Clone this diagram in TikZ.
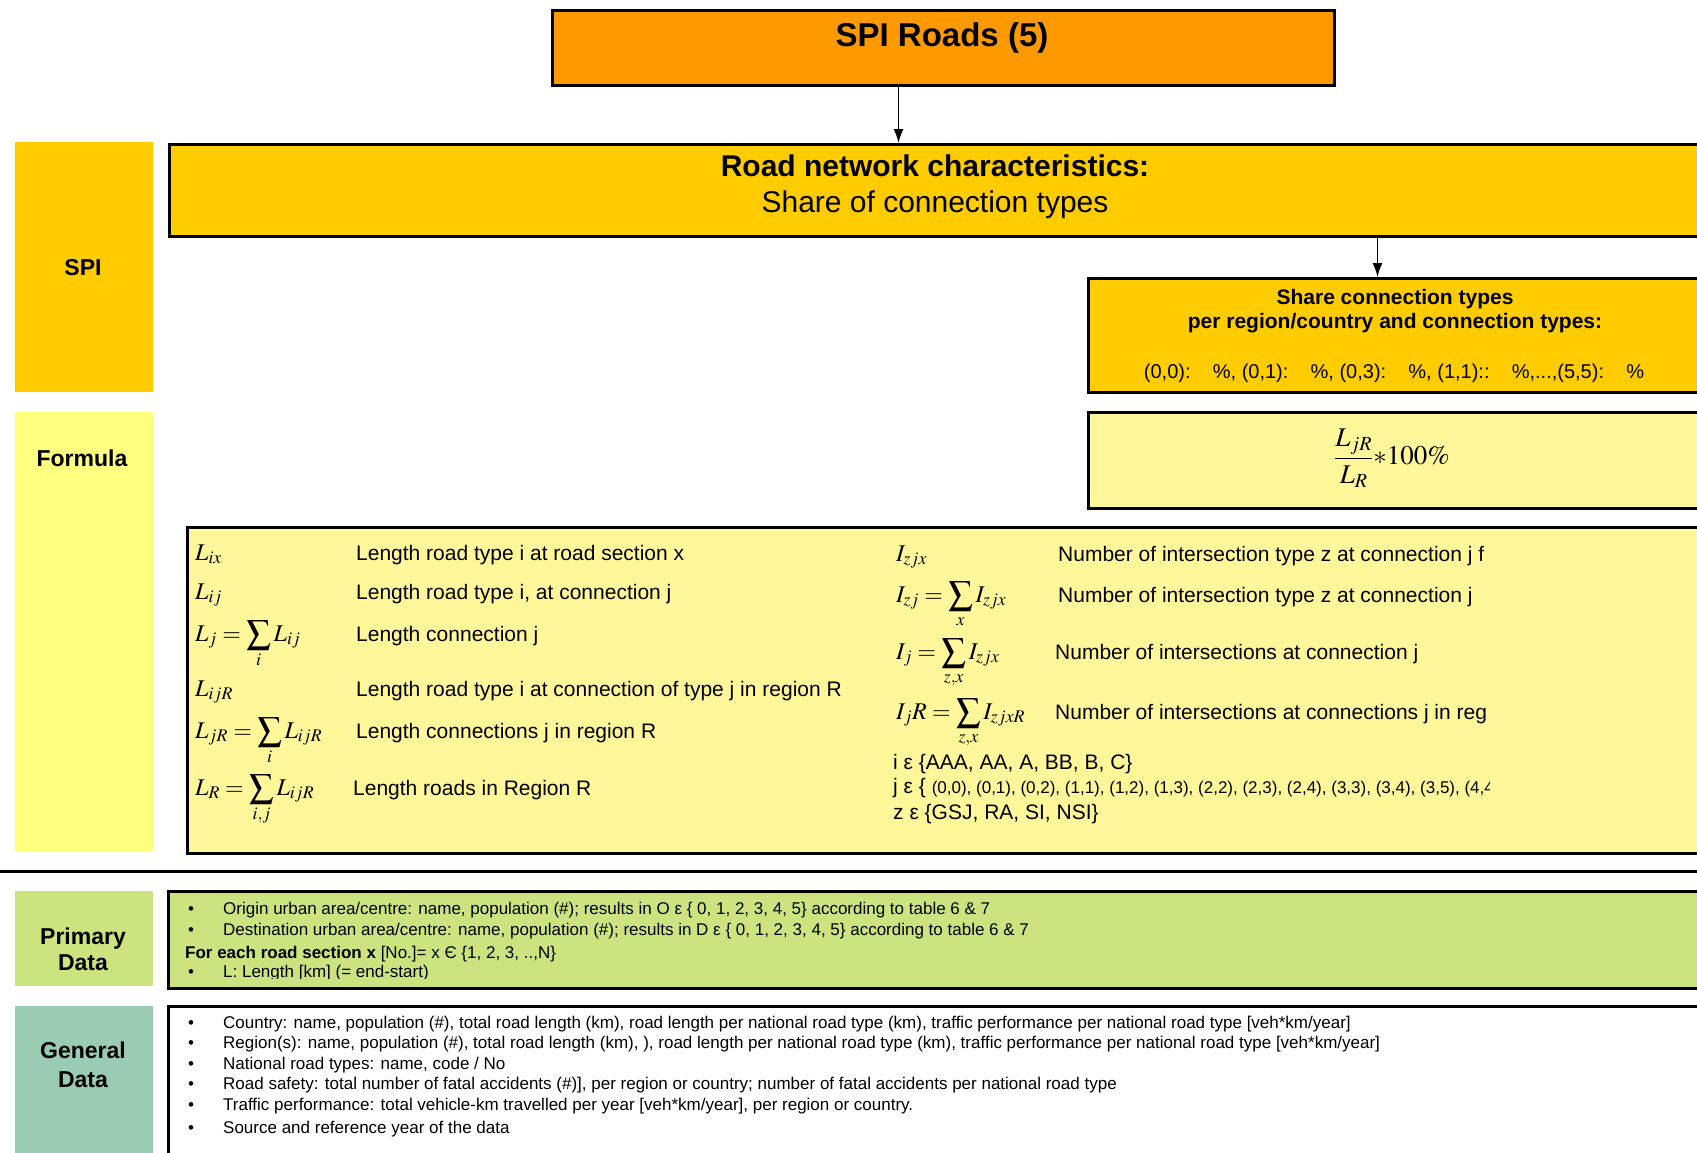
\documentclass[tikz,border=0pt]{standalone}
\usepackage{mathptmx}
\usepackage[no-math]{fontspec}
\setmainfont{Liberation Sans}
\usepackage{tikz}
\usetikzlibrary{arrows,arrows.meta}
\usetikzlibrary{calc}
\definecolor{spiorange}{RGB}{255,153,0}
\definecolor{spigold}{RGB}{255,204,0}
\definecolor{formtag}{RGB}{255,255,128}
\definecolor{formbox}{RGB}{255,247,153}
\definecolor{primgreen}{RGB}{204,228,128}
\definecolor{genteal}{RGB}{153,204,178}
\tikzstyle{box}=[draw=black,line width=3pt,inner sep=0pt,anchor=north west]
\tikzstyle{sidetag}=[inner sep=0pt,anchor=north west,minimum width=138pt]
\tikzstyle{tagtext}=[align=center,inner sep=0pt,font=\fontsize{23}{27}\selectfont\bfseries]
\tikzstyle{mathcell}=[anchor=base west,inner sep=0pt,font=\fontsize{24}{28}\selectfont]
\tikzstyle{textcell}=[anchor=base west,inner sep=0pt,font=\fontsize{21}{25}\selectfont]
\tikzstyle{listcell}=[anchor=base west,inner sep=0pt,font=\fontsize{17}{20}\selectfont]
\tikzstyle{arrowedge}=[draw,line width=1.5pt,-{Latex[length=14pt,width=10pt]}]
\begin{document}
\begin{tikzpicture}[x=1pt,y=-1pt]
    \useasboundingbox (0,0) rectangle (1697,1152);

    % row labels on the left
    \node[sidetag, fill=spigold, minimum height=250pt] (spitag) at (15,142) {};
    \node[sidetag, fill=formtag, minimum height=440pt] (formtag) at (15,412) {};
    \node[sidetag, fill=primgreen, minimum height=95pt] (primtag) at (15,891) {};
    \node[sidetag, fill=genteal, minimum height=160pt] (gentag) at (15,1006) {};
    \node[tagtext] (spitext) at (83,268) {SPI};
    \node[tagtext] (formtext) at (82,458) {Formula};
    \node[tagtext, font=\fontsize{23}{26}\selectfont\bfseries] (primtext) at (83,949) {Primary\\Data};
    \node[tagtext, font=\fontsize{23}{29}\selectfont\bfseries] (gentext) at (83,1065) {General\\Data};

    % boxes
    \node[box, fill=spiorange, minimum width=782pt, minimum height=75pt] (top) at (551,9) {};
    \node[box, fill=spigold, minimum width=1534pt, minimum height=92pt] (road) at (168,143) {};
    \node[box, fill=spigold, minimum width=615pt, minimum height=114pt] (share) at (1087,277) {};
    \node[box, fill=formbox, minimum width=615pt, minimum height=96pt] (ratio) at (1087,411) {};
    \node[box, fill=formbox, minimum width=1516pt, minimum height=326pt] (defs) at (186,526) {};
    \node[box, fill=primgreen, minimum width=1535pt, minimum height=97pt] (primbox) at (167,890) {};
    \node[box, fill=white, minimum width=1535pt, minimum height=160pt] (genbox) at (167,1005) {};

    \draw[line width=3pt] (0,871) -- (1697,871);

    \draw[arrowedge] ([xshift=-45pt]top.south) -- ([xshift=-45pt]top.south |- road.north);
    \draw[arrowedge] ([xshift=441pt]road.south) -- ([xshift=441pt]road.south |- share.north);

    \node[font=\fontsize{33}{36}\selectfont\bfseries] (toptext) at (942,38) {SPI Roads (5)};
    \node[align=center, font=\fontsize{30}{36}\selectfont] (roadtext) at (935,187) {\textbf{Road network characteristics:}\\Share of connection types};

    \node[font=\fontsize{21}{24}\selectfont\bfseries] (share1) at (1395,299) {Share connection types};
    \node[font=\fontsize{21}{24}\selectfont\bfseries] (share2) at (1395,323) {per region/country and connection types:};
    \node[font=\fontsize{20}{24}\selectfont] (share3) at (1394,373) {(0,0):\ \ \ \ \%, (0,1):\ \ \ \ \%, (0,3):\ \ \ \ \%, (1,1)::\ \ \ \ \%,...,(5,5):\ \ \ \ \%};

    \node[font=\fontsize{27}{30}\selectfont] (ratiotext) at (1392,458) {$\displaystyle\frac{L_{jR}}{L_R}{*}100\%$};

    % definitions, left column
    \foreach \n/\yy/\f/\xx/\t in {1/560/{$L_{ix}$}/356/{Length road type i at road section x},
        2/599/{$L_{ij}$}/356/{Length road type i, at connection j},
        3/641/{$L_j = \displaystyle\sum_i L_{ij}$}/356/{Length connection j},
        4/696/{$L_{ijR}$}/356/{Length road type i at connection of type j in region R},
        5/738/{$L_{jR} = \displaystyle\sum_i L_{ijR}$}/356/{Length connections j in region R},
        6/795/{$L_R = \displaystyle\sum_{i,j} L_{ijR}$}/353/{Length roads in Region R}}
    {
        \node[mathcell] (lf\n) at (195,\yy) {\f};
        \node[textcell] (lt\n) at (\xx,\yy) {\t};
    }

    % definitions, right column (cut off at the edge)
    \begin{scope}
    \clip (880,526) rectangle (1489,852);
    \foreach \n/\yy/\f/\xx/\t in {1/561/{$I_{zjx}$}/1058/{Number of intersection type z at connection j f},
        2/602/{$I_{zj} = \displaystyle\sum_x I_{zjx}$}/1058/{Number of intersection type z at connection j},
        3/659/{$I_j = \displaystyle\sum_{z,x} I_{zjx}$}/1055/{Number of intersections at connection j},
        4/719/{$I_j R = \displaystyle\sum_{z,x} I_{zjxR}$}/1055/{Number of intersections at connections j in reg}}
    {
        \node[mathcell] (rf\n) at (896,\yy) {\f};
        \node[textcell] (rt\n) at (\xx,\yy) {\t};
    }
    \node[textcell] (iset) at (893,769) {i ε \{AAA, AA, A, BB, B, C\}};
    \node[textcell] (jset) at (893,793) {j ε \{ {\fontsize{17}{19}\selectfont(0,0), (0,1), (0,2), (1,1), (1,2), (1,3), (2,2), (2,3), (2,4), (3,3), (3,4), (3,5), (4,4}};
    \node[textcell] (zset) at (893,819) {z ε \{GSJ, RA, SI, NSI\}};
    \end{scope}

    % primary data
    \begin{scope}
    \clip (167,890) rectangle (1702,978);
    \foreach \n/\yy/\t in {1/914/{Origin urban area/centre: name, population (\#); results in O ε \{ 0, 1, 2, 3, 4, 5\} according to table 6 \& 7},
        2/935/{Destination urban area/centre: name, population (\#); results in D ε \{ 0, 1, 2, 3, 4, 5\} according to table 6 \& 7},
        4/977/{L: Length [km] (= end-start)}}
    {
        \node[listcell] (pb\n) at (188,\yy) {\textbullet};
        \node[listcell] (pt\n) at (223,\yy) {\t};
    }
    \node[listcell] (pt3) at (185,958) {\textbf{For each road section x} [No.]= x Є \{1, 2, 3, ..,N\}};
    \end{scope}

    % general data
    \foreach \n/\yy/\t in {1/1028/{Country: name, population (\#), total road length (km), road length per national road type (km), traffic performance per national road type [veh*km/year]},
        2/1048/{Region(s): name, population (\#), total road length (km), ), road length per national road type (km), traffic performance per national road type [veh*km/year]},
        3/1069/{National road types: name, code / No},
        4/1089/{Road safety: total number of fatal accidents (\#)], per region or country; number of fatal accidents per national road type},
        5/1110/{Traffic performance: total vehicle-km travelled per year [veh*km/year], per region or country.},
        6/1133/{Source and reference year of the data}}
    {
        \node[listcell] (gb\n) at (188,\yy) {\textbullet};
        \node[listcell] (gt\n) at (223,\yy) {\t};
    }
\end{tikzpicture}
\end{document}
